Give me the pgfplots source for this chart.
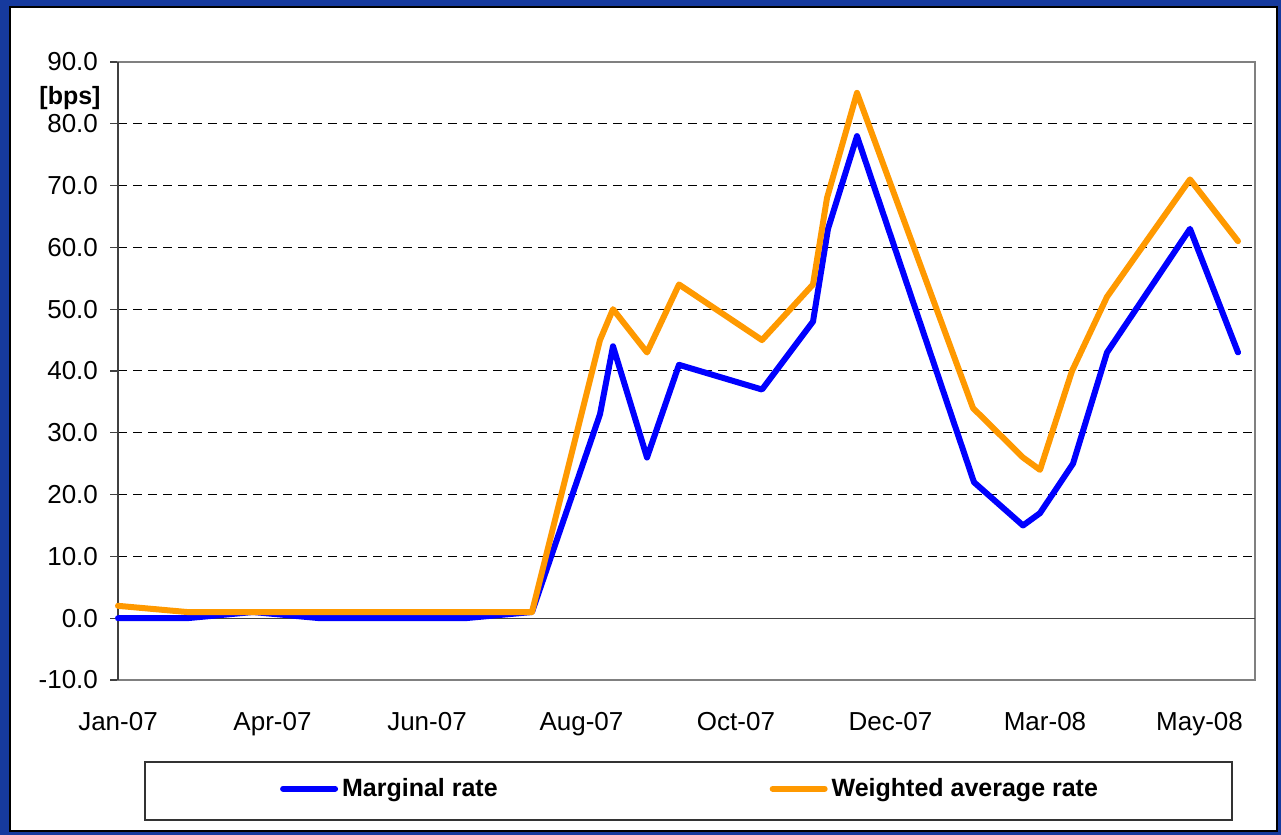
\documentclass[border=0pt]{standalone}
\usepackage{fontspec}
\setmainfont{Liberation Sans}
\usepackage{pgfplots}
\pgfplotsset{compat=1.18}
\definecolor{bgblue}{RGB}{22,58,158}
\definecolor{mblue}{RGB}{0,0,255}
\definecolor{morange}{RGB}{255,153,0}
\begin{document}
\begin{tikzpicture}[x=0.5pt,y=0.5pt]
\fill[bgblue] (0,0) rectangle (1281,835);
\filldraw[fill=white,draw=black,line width=0.6pt] (10,4) rectangle (1277,828);
\draw[black!80,line width=0.6pt] (145,15) rectangle (1232,73);
\begin{axis}[
  at={(59pt,77.5pt)}, anchor=south west,
  scale only axis, width=568.5pt, height=309pt,
  xmin=0, xmax=1137, ymin=-10, ymax=90,
  clip=false,
  xtick={0,154.5,309,463.5,618,772.5,927,1081.5},
  xticklabels={Jan-07,Apr-07,Jun-07,Aug-07,Oct-07,Dec-07,Mar-08,May-08},
  ytick={-10,0,10,20,30,40,50,60,70,80,90},
  /pgf/number format/assume math mode=true,
  yticklabel={\pgfmathprintnumber[fixed,fixed zerofill,precision=1]{\tick}},
  ticklabel style={font=\fontsize{13}{15}\selectfont},
  xticklabel style={yshift=-8.5pt},
  yticklabel style={xshift=-2.5pt},
  tick align=outside, ytick pos=left,
  major tick length=4pt,
  xtick style={draw=none},
  ytick style={black!75, line width=0.6pt},
  axis line style={draw=gray, line width=1pt},
  ymajorgrids,
  major grid style={black, dash pattern=on 4.5pt off 3pt, line width=0.5pt},
  legend style={draw=none, fill=none, at={(0.504,-0.176)}, anchor=center,
    font=\bfseries\fontsize{12.5}{15}\selectfont,
    /tikz/every even column/.append style={column sep=134pt}},
  legend columns=2,
  legend image code/.code={\draw[#1] (0pt,0pt) -- (26pt,0pt);},
  every axis plot/.append style={line width=3pt, line join=round, line cap=round},
]
\draw[black!75, line width=0.6pt] (axis cs:0,0) -- (axis cs:1137,0);
\draw[black!75, line width=0.8pt] (rel axis cs:0,0) -- (rel axis cs:0,1);
\addplot[mblue] coordinates {
(0,0) (69,0) (135,1) (202,0) (274,0) (347,0) (414,1) (482,33) (495,44) (529,26)
(561,41) (644,37) (695,48) (710,63) (739,78) (856,22) (905,15) (922,17) (955,25)
(989,43) (1072,63) (1120,43)};
\addlegendentry{Marginal rate}
\addplot[morange] coordinates {
(0,2) (69,1) (135,1) (202,1) (274,1) (347,1) (414,1) (482,45) (495,50) (529,43)
(561,54) (644,45) (695,54) (709,68) (739,85) (855,34) (905,26) (922,24) (954,40)
(989,52) (1072,71) (1120,61)};
\addlegendentry{Weighted average rate}
\node[font=\bfseries\fontsize{12.5}{15}\selectfont] at (axis cs:-48,84.2) {[bps]};
\end{axis}
\end{tikzpicture}
\end{document}
